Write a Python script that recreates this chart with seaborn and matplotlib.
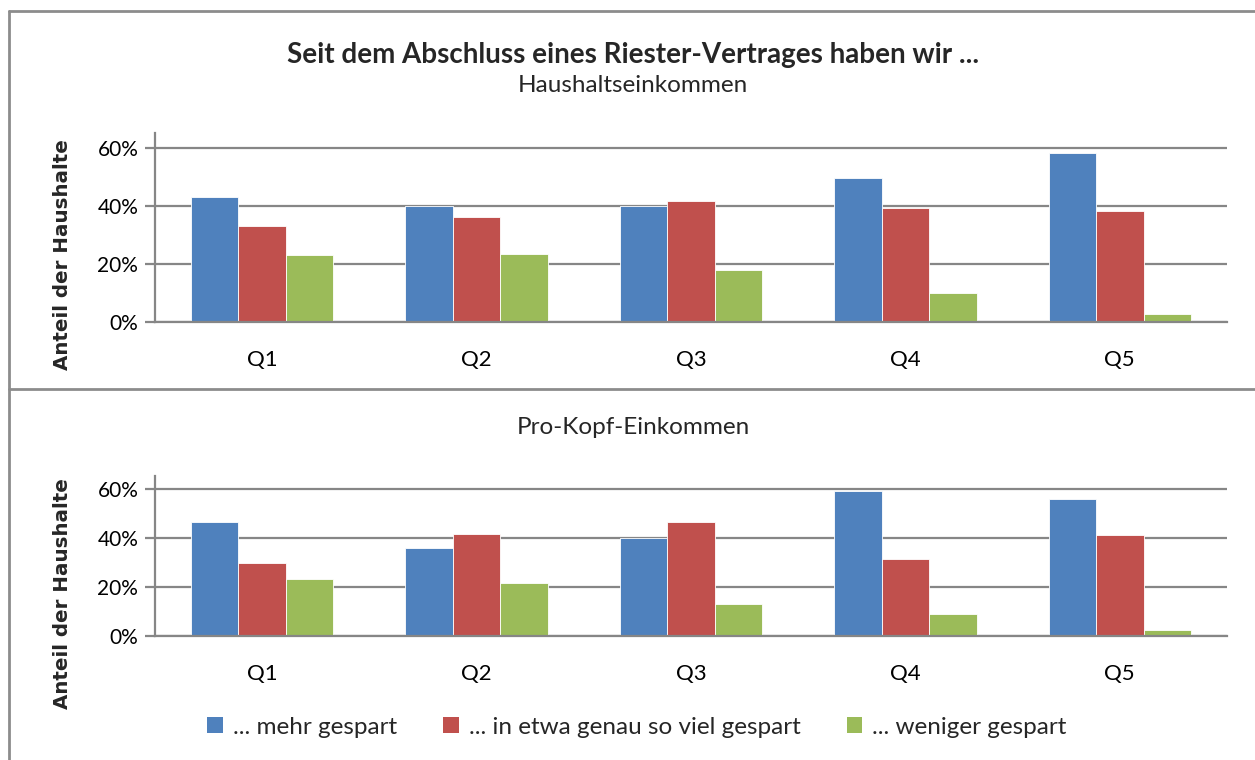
import matplotlib
matplotlib.use("Agg")
import matplotlib.pyplot as plt
import seaborn as sns
import pandas as pd
from matplotlib.lines import Line2D
from matplotlib.patches import Patch
from matplotlib.ticker import FixedLocator, PercentFormatter

categories = ["Q1", "Q2", "Q3", "Q4", "Q5"]
series = ["... mehr gespart", "... in etwa genau so viel gespart", "... weniger gespart"]
haushalt_mehr = [0.433, 0.400, 0.400, 0.499, 0.584]
haushalt_gleich = [0.333, 0.363, 0.420, 0.394, 0.384]
haushalt_weniger = [0.232, 0.234, 0.179, 0.102, 0.028]
prokopf_mehr = [0.467, 0.359, 0.401, 0.592, 0.561]
prokopf_gleich = [0.296, 0.417, 0.466, 0.316, 0.412]
prokopf_weniger = [0.234, 0.218, 0.129, 0.089, 0.023]
colors = ["#4F81BD", "#C0504D", "#9BBB59"]

title = "Seit dem Abschluss eines Riester-Vertrages haben wir ..."
subtitles = ["Haushaltseinkommen", "Pro-Kopf-Einkommen"]
ylabel = "Anteil der Haushalte"

def long_df(a, b, c):
    rows = []
    for vals, s in zip([a, b, c], series):
        for cat, v in zip(categories, vals):
            rows.append({"cat": cat, "series": s, "value": v})
    return pd.DataFrame(rows)

sns.set_theme(style="white")
plt.rcParams["font.family"] = ["Lato", "DejaVu Sans"]

W, H = 1255, 760
fig = plt.figure(figsize=(W / 100, H / 100), dpi=100)

grid_c = "#868686"
axes_specs = [
    (long_df(haushalt_mehr, haushalt_gleich, haushalt_weniger), 133, 322.3),
    (long_df(prokopf_mehr, prokopf_gleich, prokopf_weniger), 476, 636),
]
left, right = 155, 1227

for i, (df, ytop, ybot) in enumerate(axes_specs):
    ax = fig.add_axes([left / W, 1 - ybot / H, (right - left) / W, (ybot - ytop) / H])
    sns.barplot(data=df, x="cat", y="value", hue="series", palette=colors,
                width=0.665, ax=ax, legend=False, edgecolor="white", linewidth=0.6,
                saturation=1)
    ax.set_xlim(-0.5, 4.5)
    ax.set_ylim(0, 0.653)
    ax.yaxis.set_major_locator(FixedLocator([0, 0.2, 0.4, 0.6]))
    ax.yaxis.set_major_formatter(PercentFormatter(1.0, decimals=0))
    ax.set_axisbelow(True)
    ax.grid(axis="y", color=grid_c, linewidth=1.6)
    ax.grid(axis="x", visible=False)
    for s in ["top", "right"]:
        ax.spines[s].set_visible(False)
    for s in ["left", "bottom"]:
        ax.spines[s].set_color(grid_c)
        ax.spines[s].set_linewidth(1.6)
    ax.spines["left"].set_bounds(0, 0.653)
    ax.xaxis.set_minor_locator(FixedLocator([-0.5, 0.5, 1.5, 2.5, 3.5, 4.5]))
    ax.tick_params(axis="x", which="major", length=0, labelsize=16, pad=20, colors="black")
    ax.tick_params(axis="x", which="minor", length=8, width=1.6, color=grid_c, direction="out")
    ax.tick_params(axis="y", which="major", length=7, width=1.6, color=grid_c, labelsize=15,
                   pad=5, left=True, labelcolor="black")
    ax.set_xlabel("")
    ax.set_ylabel("")
    for lab in ax.get_xticklabels() + ax.get_yticklabels():
        lab.set_color("black")

# y labels
for yc in (255, 594):
    fig.text(62 / W, 1 - yc / H, ylabel, rotation=90, ha="center", va="center",
             fontsize=14.3, fontweight="bold", family=["DejaVu Sans"])

# titles
fig.text(633 / W, 1 - 55 / H, title, ha="center", va="center", fontsize=20, fontweight="bold")
fig.text(633 / W, 1 - 86 / H, subtitles[0], ha="center", va="center", fontsize=17.5)
fig.text(633 / W, 1 - 428 / H, subtitles[1], ha="center", va="center", fontsize=17.5)

# panel borders
bc = "#8c8c8c"
for (x0, y0, x1, y1) in [(9, 11, 1260, 11), (9, 11, 9, 770), (9, 389, 1260, 389)]:
    fig.add_artist(Line2D([x0 / W, x1 / W], [1 - y0 / H, 1 - y1 / H], color=bc, linewidth=2,
                          transform=fig.transFigure))

handles = [Patch(facecolor=c, edgecolor="none") for c in colors]
fig.legend(handles, series, loc="center", bbox_to_anchor=(637 / W, 1 - 727 / H), ncol=3,
           frameon=False, fontsize=17.5, handlelength=0.65, handleheight=0.65, handletextpad=0.4,
           columnspacing=1.9)

fig.savefig("out.png", dpi=100)
